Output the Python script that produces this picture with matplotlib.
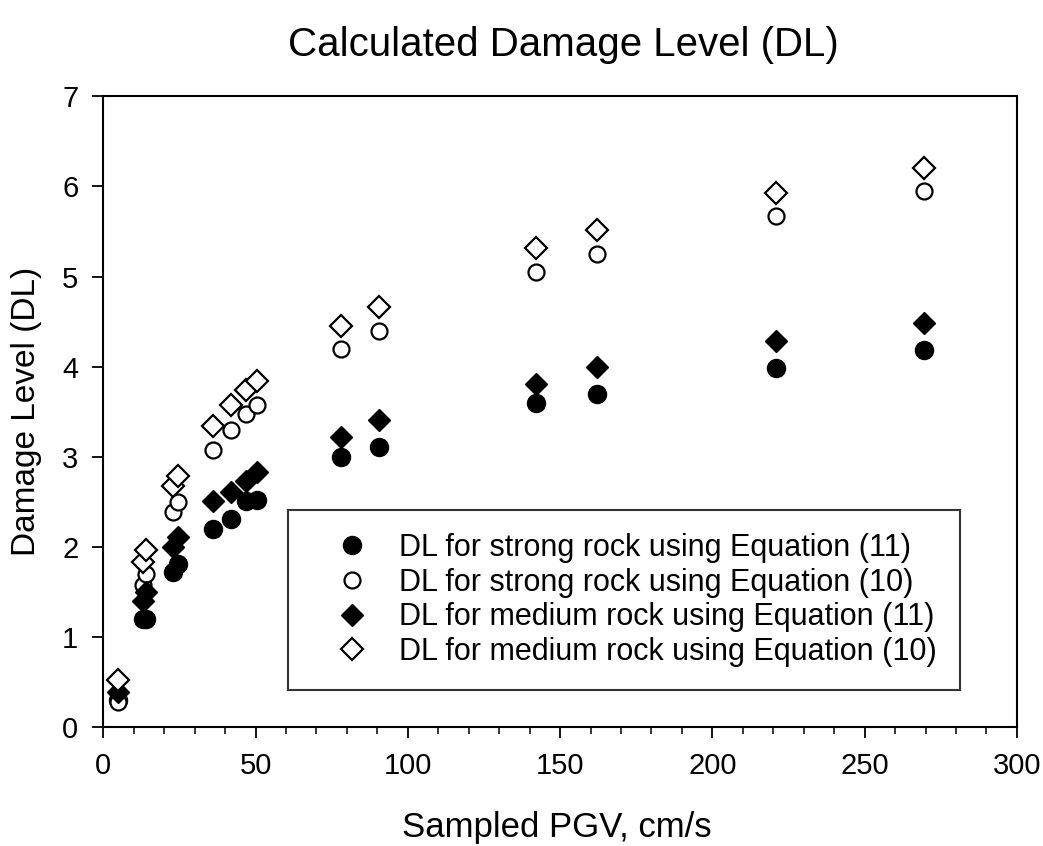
import matplotlib
matplotlib.use("Agg")
import matplotlib.pyplot as plt
from matplotlib.ticker import MultipleLocator

plt.rcParams['font.family'] = ['Liberation Sans', 'DejaVu Sans']

# sampled PGV (cm/s)
pgv = [5, 13, 14, 23, 24.5, 36, 42, 47, 50.5, 78, 90.5, 142, 162, 221, 269.5]

strong_eq11 = [0.30, 1.20, 1.20, 1.72, 1.81, 2.20, 2.31, 2.51, 2.52, 3.00, 3.11, 3.60, 3.70, 3.98, 4.18]
strong_eq10 = [0.27, 1.57, 1.70, 2.39, 2.50, 3.07, 3.30, 3.47, 3.57, 4.19, 4.40, 5.05, 5.25, 5.67, 5.95]
medium_eq11 = [0.38, 1.40, 1.50, 2.00, 2.11, 2.51, 2.61, 2.73, 2.83, 3.22, 3.41, 3.81, 4.00, 4.28, 4.48]
medium_eq10 = [0.52, 1.83, 1.96, 2.67, 2.78, 3.34, 3.57, 3.74, 3.84, 4.45, 4.66, 5.32, 5.52, 5.93, 6.21]

labels = ["DL for strong rock using Equation (11)",
          "DL for strong rock using Equation (10)",
          "DL for medium rock using Equation (11)",
          "DL for medium rock using Equation (10)"]

fig = plt.figure(figsize=(10.43, 8.46), dpi=100)
ax = fig.add_axes([0.099, 0.141, 0.876, 0.745])

ax.plot(pgv, strong_eq11, 'o', ms=13, mfc='black', mec='black', ls='none', label=labels[0])
ax.plot(pgv, strong_eq10, 'o', ms=11.5, mfc='white', mec='black', mew=1.6, ls='none', label=labels[1])
ax.plot(pgv, medium_eq11, 'D', ms=11, mfc='black', mec='black', ls='none', label=labels[2])
ax.plot(pgv, medium_eq10, 'D', ms=11, mfc='white', mec='black', mew=1.6, ls='none', label=labels[3])

ax.set_xlim(0, 300)
ax.set_ylim(0, 7)
ax.xaxis.set_major_locator(MultipleLocator(50))
ax.xaxis.set_minor_locator(MultipleLocator(10))
ax.yaxis.set_major_locator(MultipleLocator(1))
ax.tick_params(axis='both', which='major', direction='out', length=8, width=1.3, labelsize=21, pad=10)
ax.tick_params(axis='x', which='minor', direction='out', length=5, width=1.1)
for s in ax.spines.values():
    s.set_linewidth(1.5)

ax.set_xlabel("Sampled PGV, cm/s", fontsize=25, va='baseline')
ax.xaxis.set_label_coords(0.496, -0.175)
ax.set_ylabel("Damage Level (DL)", fontsize=24)
ax.yaxis.set_label_coords(-0.067, 0.5)
fig.text(0.54, 0.947, "Calculated Damage Level (DL)", ha='center', va='center', fontsize=29)

leg = ax.legend(loc='lower right', bbox_to_anchor=(0.9376, 0.0587), borderaxespad=0,
                fontsize=22, frameon=True, fancybox=False, edgecolor='black',
                handletextpad=0.2, labelspacing=0.15, borderpad=0.75, handlelength=2.7)
leg.get_frame().set_linewidth(1.5)

fig.savefig("out.png", dpi=100)
